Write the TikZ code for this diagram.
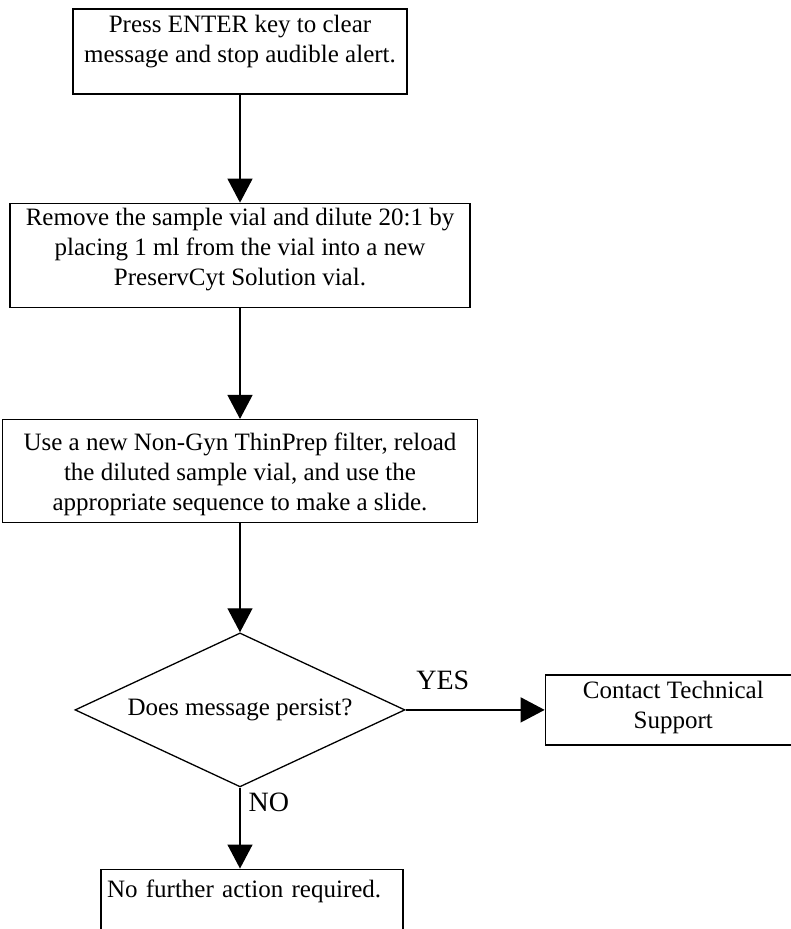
\documentclass[tikz,border=0pt]{standalone}
\usepackage{fontspec}
\setmainfont{Liberation Serif}
\usetikzlibrary{arrows.meta,positioning,shapes.geometric}

\begin{document}
\begin{tikzpicture}[
    x=1pt, y=1pt,
    font=\fontsize{25}{30}\selectfont,
    line width=1.3pt,
    node distance=108pt,
    box/.style={
        draw,
        align=center,
        inner xsep=4pt,
        inner ysep=0pt
    },
    decision/.style={
        draw,
        diamond,
        aspect=2.14,
        minimum width=330pt,
        minimum height=154pt,
        inner sep=0pt
    },
    lbl/.style={font=\fontsize{28}{30}\selectfont, inner sep=0pt},
    arr/.style={-{Triangle[length=24pt,width=25pt]}}
]
    \useasboundingbox (0,0) rectangle (790,-929);
    %% Steps
    \node[box, minimum width=334pt, text height=53pt, text depth=32pt] (enter) at (240,-51.5) {Press ENTER key to clear\\message and stop audible alert.};
    \node[box, minimum width=460pt, text height=82pt, text depth=22pt, below=of enter] (dilute) {Remove the sample vial and dilute 20:1 by\\placing 1 ml from the vial into a new\\PreservCyt Solution vial.};
    \node[box, minimum width=475pt, text height=91pt, text depth=12pt, below=111pt of dilute] (reload) {Use a new Non-Gyn ThinPrep filter, reload\\the diluted sample vial, and use the\\appropriate sequence to make a slide.};
    %% Decision
    \node[decision, below=109pt of reload] (persist) {Does message persist?};
    %% Outcomes
    \node[box, minimum width=256pt, text height=54pt, text depth=16pt, right=139pt of persist] (support) {Contact Technical\\Support};
    \node[box, text width=290pt, align=left, inner xsep=6pt, text height=28pt, text depth=80pt, below=81pt of persist, xshift=12pt] (done) {No further action required.};

    %% Arrows
    \draw[arr] (enter) -- (dilute);
    \draw[arr] (dilute) -- (reload);
    \draw[arr] (reload) -- (persist);
    \draw[arr] (persist) -- node[lbl, pos=0, above right=19pt and 10pt] {YES} (support);
    \draw[arr] (persist.south) -- node[lbl, pos=0, below right=5pt and 8pt] {NO} (persist.south |- done.north);
\end{tikzpicture}
\end{document}
